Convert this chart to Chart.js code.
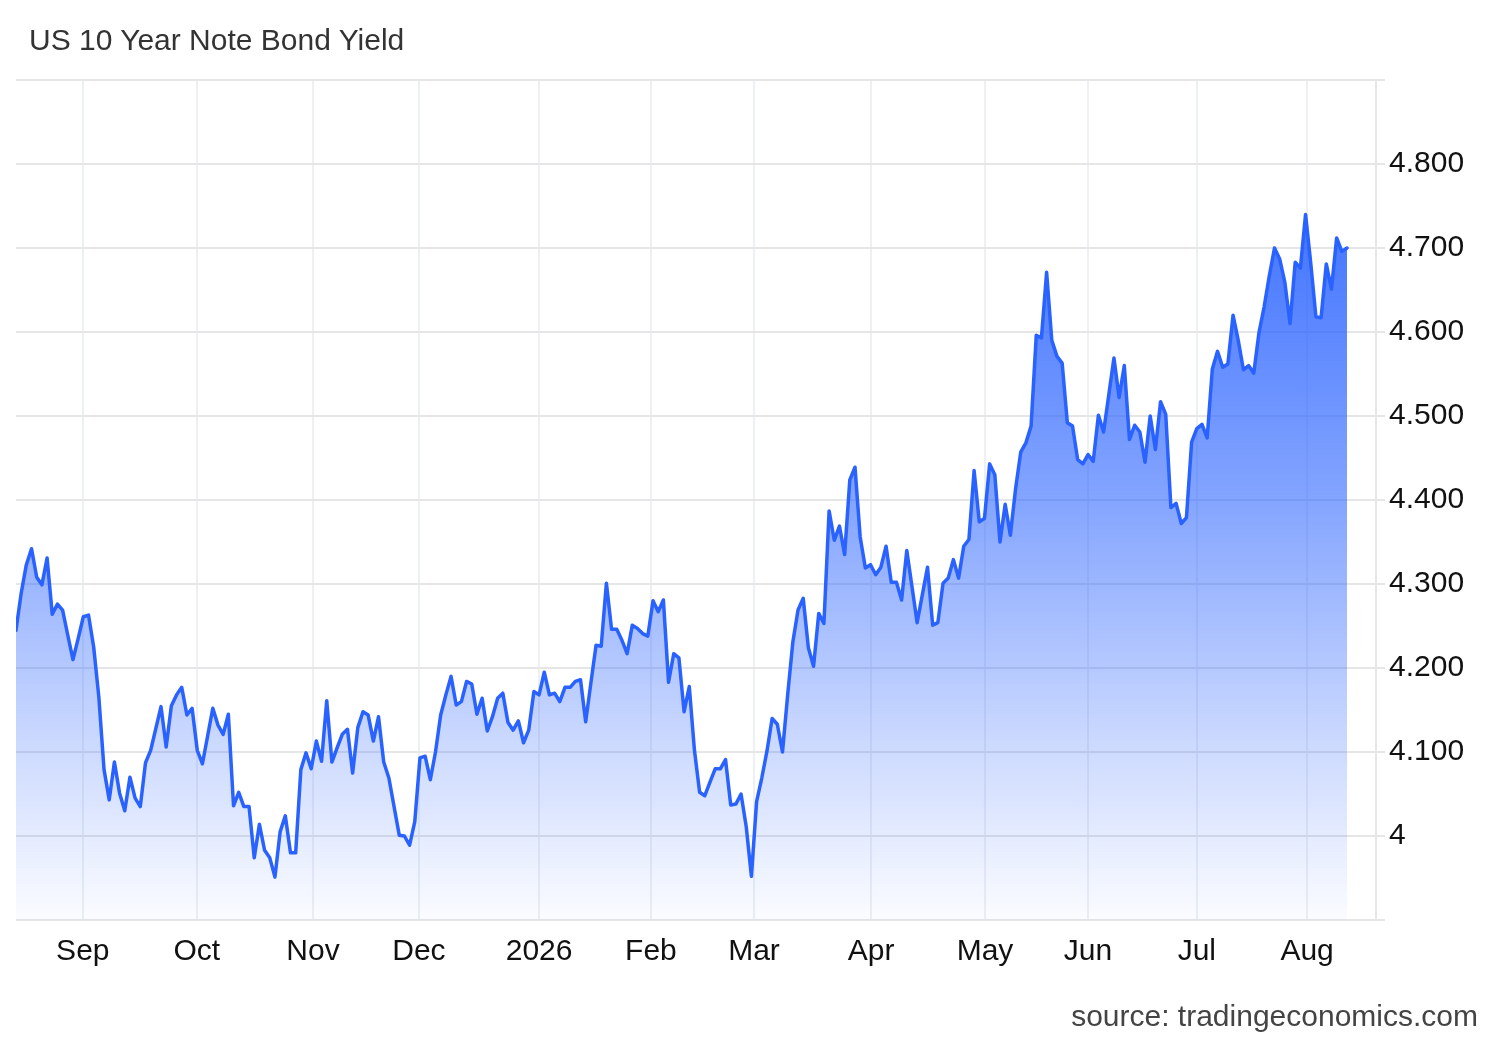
<!DOCTYPE html>
<html>
<head>
<meta charset="utf-8">
<script src="https://cdn.jsdelivr.net/npm/chart.js@4/dist/chart.umd.min.js"></script>
<style>
  html, body { margin: 0; padding: 0; background: #fff; }
  #wrap { position: relative; width: 1500px; height: 1040px; font-family: "Liberation Sans", Arial, sans-serif; }
  #chartBox { position: absolute; left: 0; top: 0; width: 1500px; height: 1040px; }
  #title { position: absolute; left: 29px; top: 25px; font-size: 30px; line-height: 30px; color: #333; }
  #source { position: absolute; right: 22px; top: 1001px; font-size: 30px; line-height: 30px; color: #444; }
</style>
</head>
<body>
<div id="wrap">
  <div id="chartBox"><canvas id="myChart"></canvas></div>
  <div id="title">US 10 Year Note Bond Yield</div>
  <div id="source">source: tradingeconomics.com</div>
</div>
<script>
// daily closes, one per trading day, mid Aug 2025 -> mid Aug 2026
const yields = [
  4.245, 4.289, 4.323, 4.342, 4.308, 4.299, 4.331, 4.264, 4.276, 4.269,
  4.239, 4.210, 4.235, 4.261, 4.263, 4.225, 4.165, 4.079, 4.043, 4.088,
  4.051, 4.030, 4.070, 4.045, 4.035, 4.087, 4.102, 4.128, 4.154, 4.106,
  4.155, 4.168, 4.177, 4.144, 4.152, 4.102, 4.086, 4.119, 4.152, 4.132,
  4.121, 4.145, 4.036, 4.052, 4.035, 4.035, 3.974, 4.014, 3.983, 3.974,
  3.951, 4.005, 4.024, 3.980, 3.980, 4.079, 4.099, 4.080, 4.113, 4.089,
  4.161, 4.088, 4.105, 4.121, 4.127, 4.075, 4.129, 4.148, 4.144, 4.113,
  4.142, 4.088, 4.069, 4.035, 4.001, 4.000, 3.989, 4.017, 4.093, 4.095,
  4.067, 4.100, 4.144, 4.168, 4.190, 4.156, 4.160, 4.184, 4.181, 4.145,
  4.164, 4.125, 4.142, 4.164, 4.170, 4.135, 4.126, 4.137, 4.111, 4.126,
  4.172, 4.168, 4.195, 4.168, 4.170, 4.160, 4.177, 4.177, 4.184, 4.186,
  4.136, 4.182, 4.227, 4.226, 4.301, 4.246, 4.246, 4.233, 4.217, 4.251,
  4.247, 4.241, 4.238, 4.280, 4.267, 4.281, 4.183, 4.217, 4.212, 4.148,
  4.178, 4.102, 4.052, 4.048, 4.064, 4.080, 4.080, 4.091, 4.037, 4.038,
  4.050, 4.011, 3.952, 4.041, 4.069, 4.101, 4.140, 4.133, 4.100, 4.168,
  4.231, 4.269, 4.283, 4.224, 4.202, 4.265, 4.253, 4.387, 4.352, 4.369,
  4.335, 4.424, 4.439, 4.356, 4.319, 4.323, 4.311, 4.320, 4.345, 4.302,
  4.302, 4.281, 4.340, 4.297, 4.254, 4.287, 4.320, 4.251, 4.254, 4.301,
  4.307, 4.329, 4.307, 4.345, 4.353, 4.435, 4.374, 4.378, 4.443, 4.430,
  4.350, 4.395, 4.358, 4.413, 4.457, 4.468, 4.488, 4.596, 4.593, 4.671,
  4.590, 4.571, 4.563, 4.492, 4.488, 4.448, 4.443, 4.454, 4.446, 4.501,
  4.481, 4.525, 4.569, 4.522, 4.560, 4.472, 4.489, 4.481, 4.445, 4.500,
  4.460, 4.517, 4.502, 4.391, 4.396, 4.372, 4.379, 4.469, 4.485, 4.490,
  4.474, 4.556, 4.577, 4.558, 4.562, 4.620, 4.590, 4.555, 4.560, 4.551,
  4.599, 4.630, 4.667, 4.700, 4.687, 4.659, 4.610, 4.683, 4.676, 4.740,
  4.682, 4.618, 4.617, 4.681, 4.651, 4.712, 4.696, 4.700
];

// first trading day of each month, as position in the series
const monthLabels = ["Sep", "Oct", "Nov", "Dec", "2026", "Feb", "Mar", "Apr", "May", "Jun", "Jul", "Aug"];
const monthTickPos = [12.9, 34.9, 57.35, 77.8, 101, 122.6, 142.5, 165.1, 187.1, 207, 228, 249.3];

const yMin = 3.9;
const yMax = 4.9;

const fontFamily = '"Liberation Sans", Arial, sans-serif';
const lineBlue = "#2962ff";

function areaFill(ctx) {
  const chart = ctx.chart;
  const area = chart.chartArea;
  if (!area) return "rgba(41,98,255,0.4)";
  const top = chart.scales.y.getPixelForValue(Math.max(...yields));
  const g = chart.ctx.createLinearGradient(0, top, 0, area.bottom);
  g.addColorStop(0, "rgba(41,98,255,0.88)");
  g.addColorStop(0.4, "rgba(41,98,255,0.58)");
  g.addColorStop(0.75, "rgba(41,98,255,0.24)");
  g.addColorStop(1, "rgba(41,98,255,0.02)");
  return g;
}

const myChartElement = document.getElementById("myChart");

new Chart(myChartElement, {
  type: "line",
  data: {
    datasets: [{
      label: "US 10Y",
      data: yields.map((v, i) => ({ x: i, y: v })),
      borderColor: lineBlue,
      borderWidth: 3.5,
      borderJoinStyle: "round",
      borderCapStyle: "round",
      backgroundColor: areaFill,
      fill: "start",
      pointRadius: 0,
      tension: 0
    }]
  },
  options: {
    responsive: true,
    maintainAspectRatio: false,
    animation: false,
    layout: { padding: { top: 80, left: 16, right: 0, bottom: 60 } },
    plugins: {
      legend: { display: false },
      tooltip: { enabled: false }
    },
    scales: {
      x: {
        type: "linear",
        min: 0,
        max: 262.6,
        afterBuildTicks: (axis) => {
          axis.ticks = monthTickPos.map(v => ({ value: v }));
        },
        afterFit: (axis) => { axis.height = 60; },
        ticks: {
          autoSkip: false,
          maxRotation: 0,
          padding: 14,
          color: "#111",
          font: { family: fontFamily, size: 30 },
          callback: (value) => {
            const k = monthTickPos.indexOf(value);
            return k >= 0 ? monthLabels[k] : "";
          }
        },
        grid: { color: "#edf0f5", lineWidth: 2, drawTicks: false },
        border: { display: false }
      },
      y: {
        position: "right",
        min: yMin,
        max: yMax,
        afterFit: (axis) => { axis.width = 124; },
        ticks: {
          stepSize: 0.1,
          padding: 4,
          color: "#111",
          font: { family: fontFamily, size: 30 },
          callback: (value) => {
            const v = Math.round(value * 10) / 10;
            if (v <= yMin || v >= yMax) return "";
            if (v === 4) return "4";
            return v.toFixed(3);
          }
        },
        grid: { color: "#e6e6e6", lineWidth: 2, tickLength: 9 },
        border: { display: true, color: "#e6e6e6", width: 2 }
      }
    }
  }
});
</script>
</body>
</html>
